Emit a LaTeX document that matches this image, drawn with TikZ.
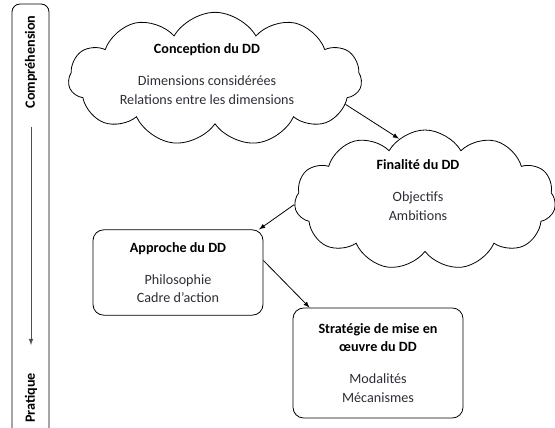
\documentclass[tikz,border=0pt]{standalone}
\usepackage{fontspec}
\setmainfont{Carlito}
\usetikzlibrary{shapes}
\usepackage{xcolor}
\definecolor{bodygray}{RGB}{45,45,55}
\definecolor{axisgray}{RGB}{80,80,80}

\begin{document}
\begin{tikzpicture}[x=0.75pt,y=-0.75pt]
    \tikzstyle{every node}=[font=\fontsize{10.6}{14}\selectfont, align=center, text=bodygray]
    \tikzstyle{dcloud}=[cloud, cloud puffs=11, cloud puff arc=120, cloud ignores aspect, draw, line width=0.6pt]
    \tikzstyle{dbox}=[rectangle, rounded corners=8pt, draw, line width=0.6pt, minimum width=127.5pt]
    \tikzstyle{link}=[->, >=latex, line width=0.6pt]
    \tikzstyle{side}=[rotate=90, text=black, font=\fontsize{10.6}{14}\selectfont\bfseries]
    \useasboundingbox (0,0) rectangle (555,427);
    \draw[rounded corners=6pt, line width=0.6pt] (12,432) -- (12,4) -- (49,4) -- (49,432);
    \node[side] (compr) at (31,62) {Compréhension};
    \node[side] (prat) at (31,398) {Pratique};
    \coordinate (axtop) at (31,127);
    \coordinate (axbot) at (31,345);
    \draw[link, axisgray] (axtop) -- (axbot);
    \node[dcloud, minimum width=220pt, minimum height=100pt] (concep) at (215,79) {};
    \node (conceptxt) at (207,74) {{\bfseries\color{black}Conception du DD}\\[10pt]
      Dimensions considérées\\ Relations entre les dimensions};
    \node[dcloud, minimum width=196pt, minimum height=105pt] (final) at (425,200) {};
    \node (finaltxt) at (418,190) {{\bfseries\color{black}Finalité du DD}\\[10pt]
      Objectifs\\ Ambitions};
    \node[dbox, minimum height=64pt] (approche) at (178,272.5) {{\bfseries\color{black}Approche du DD}\\[10pt]
      Philosophie\\ Cadre d’action};
    \node[dbox, minimum height=82.5pt] (strat) at (378,363) {{\bfseries\color{black}Stratégie de mise en}\\
      {\bfseries\color{black}œuvre du DD}\\[10pt] Modalités\\ Mécanismes};
    \draw[link] (concep.-11) -- (final.113);
    \draw[link] (final.182) -- (approche.28);
    \draw[link] (approche.8) -- (strat.141);
\end{tikzpicture}
\end{document}
